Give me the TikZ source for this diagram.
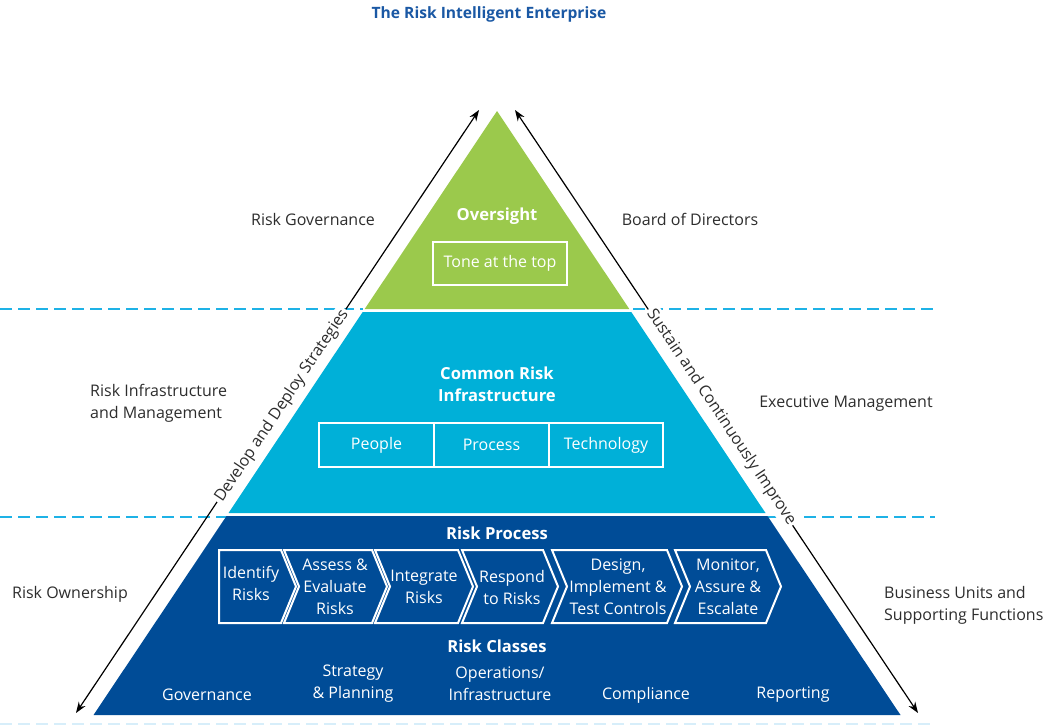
\documentclass[tikz,border=0pt]{standalone}
\usepackage{fontspec}
\setmainfont{Open Sans}
\usetikzlibrary{arrows.meta}
\definecolor{pgreen}{RGB}{155,201,76}
\definecolor{pcyan}{RGB}{0,176,216}
\definecolor{pblue}{RGB}{0,76,151}
\definecolor{ptitle}{RGB}{26,88,164}
\definecolor{pdash}{RGB}{30,178,230}
\definecolor{pfaint}{RGB}{215,238,250}
\definecolor{ptext}{RGB}{45,45,45}
\tikzset{
 lbl/.style={font=\fontsize{16}{22}\selectfont, text=ptext, align=center, inner sep=0pt},
 lbll/.style={lbl, align=left},
 wtxt/.style={font=\fontsize{16}{22}\selectfont, text=white, align=center, inner sep=0pt},
 wbold/.style={wtxt, font=\fontsize{16.6}{22}\selectfont\bfseries},
 wbox/.style={draw=white, line width=2pt, font=\fontsize{16}{22}\selectfont, text=white, inner sep=0pt},
 chev/.style={draw=white, line width=2pt, fill=pblue, line join=miter},
 dashline/.style={pdash, line width=2.5pt, dash pattern=on 12pt off 6pt},
 riskarrow/.style={line width=1.2pt, {Stealth[length=11pt,width=8pt]}-{Stealth[length=11pt,width=8pt]}},
 arrlbl/.style={font=\fontsize{16}{20}\selectfont, fill=white, inner sep=2pt, text=ptext},
}
\begin{document}
\begin{tikzpicture}[x=1pt,y=-1pt]
\useasboundingbox (0,0) rectangle (1057,725);
% title
\node[font=\fontsize{15.6}{18}\selectfont\bfseries, text=ptitle] (title) at (489,14) {The Risk Intelligent Enterprise};
% dashed level lines
\draw[dashline] (0,309) -- (363,309);
\draw[dashline] (633,309) -- (935,309);
\draw[dashline] (0,517) -- (227,517);
\draw[dashline] (768,517) -- (935,517);
\draw[dashline, pfaint] (0,724) -- (935,724);
% side arrows
\coordinate (lb) at (76,713); \coordinate (lt) at (479,110);
\coordinate (rt) at (515,110); \coordinate (rb) at (918,713);
\draw[riskarrow] (lb) -- (lt);
\draw[riskarrow] (rt) -- (rb);
\node[arrlbl, rotate=56.25] (dev) at (282,406) {Develop and Deploy Strategies};
\node[arrlbl, rotate=-56.25] (sus) at (721,417) {Sustain and Continuously Improve};
% pyramid
\fill[pgreen] (497,111) -- (629.3,309) -- (364.7,309) -- cycle;
\fill[pcyan] (362.7,312) -- (631.3,312) -- (765.5,513) -- (228.5,513) -- cycle;
\fill[pblue] (226.5,516) -- (767.5,516) -- (900.5,715) -- (93.5,715) -- cycle;
% oversight
\node[wbold] (over) at (497,216) {Oversight};
\node[wbox, minimum width=134, minimum height=43] (tone) at (500,263.5) {Tone at the top};
% common risk infrastructure
\node[wbold] (cri) at (497,384) {Common Risk\\Infrastructure};
\node[wbox, minimum width=115, minimum height=44] (people) at (376.5,445) {People};
\node[wbox, minimum width=115, minimum height=44] (process) at (491.5,445) {Process};
\node[wbox, minimum width=114, minimum height=44] (tech) at (606,445) {Technology};
% risk process
\node[wbold] (rp) at (497,533) {Risk Process};
\draw[chev] (219,550) -- (281,550) -- (296,586.5) -- (281,623) -- (219,623) -- cycle;
\draw[chev] (284,550) -- (372,550) -- (387,586.5) -- (372,623) -- (284,623) -- (299,586.5) -- cycle;
\draw[chev] (375,550) -- (458,550) -- (473,586.5) -- (458,623) -- (375,623) -- (390,586.5) -- cycle;
\draw[chev] (462,550) -- (543,550) -- (558,586.5) -- (543,623) -- (462,623) -- (477,586.5) -- cycle;
\draw[chev] (552,550) -- (667,550) -- (682,586.5) -- (667,623) -- (552,623) -- (567,586.5) -- cycle;
\draw[chev] (675,550) -- (766,550) -- (781,586.5) -- (766,623) -- (675,623) -- (690,586.5) -- cycle;
\node[wtxt] (c1) at (251,583) {Identify\\Risks};
\node[wtxt] (c2) at (335,587) {Assess \&\\Evaluate\\Risks};
\node[wtxt] (c3) at (424,587) {Integrate\\Risks};
\node[wtxt] (c4) at (512,587) {Respond\\to Risks};
\node[wtxt] (c5) at (618,587) {Design,\\Implement \&\\Test Controls};
\node[wtxt] (c6) at (728,587) {Monitor,\\Assure \&\\Escalate};
% risk classes
\node[wbold] (rc) at (497,646) {Risk Classes};
\node[wtxt] (k1) at (207,695) {Governance};
\node[wtxt] (k2) at (353,684) {Strategy\\\& Planning};
\node[wtxt] (k3) at (500,684) {Operations/\\Infrastructure};
\node[wtxt] (k4) at (646,695) {Compliance};
\node[wtxt] (k5) at (793,695) {Reporting};
% side labels
\node[lbl] (l1) at (313,219) {Risk Governance};
\node[lbl] (r1) at (690,219) {Board of Directors};
\node[lbll, anchor=west] (l2) at (90,403) {Risk Infrastructure\\and Management};
\node[lbl] (r2) at (846,404) {Executive Management};
\node[lbl] (l3) at (70,594) {Risk Ownership};
\node[lbll, anchor=west] (r3) at (884,605) {Business Units and\\Supporting Functions};
\end{tikzpicture}
\end{document}
